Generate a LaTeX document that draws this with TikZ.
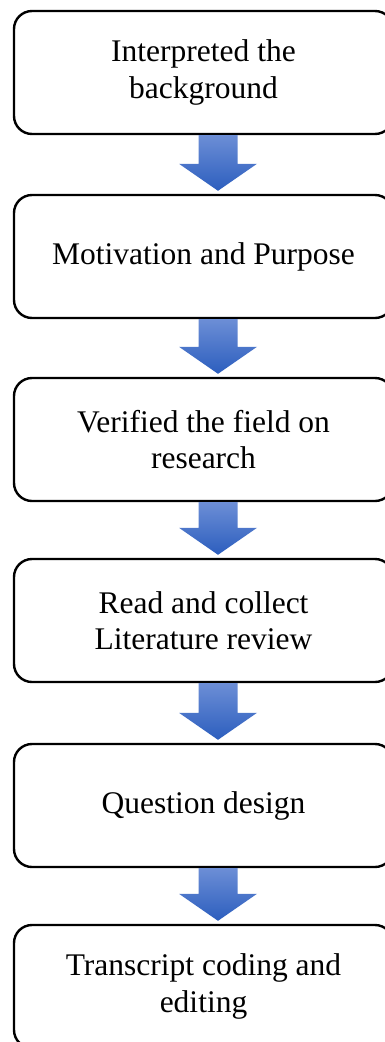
\documentclass[tikz,border=0pt]{standalone}
\usepackage{fontspec}
\setmainfont{Liberation Serif}
\usetikzlibrary{calc}
\definecolor{arrtop}{RGB}{108,142,214}
\definecolor{arrbot}{RGB}{44,94,190}
\tikzset{
 stepbox/.style={draw=black, line width=2.4pt, rounded corners=18pt, minimum width=379pt, minimum height=123pt, align=center, font=\fontsize{31.5}{36.5}\selectfont, inner sep=0pt},
 flowarrow/.style={top color=arrtop, bottom color=arrbot, draw=none}
}
\newcommand{\flowarr}[2]{%
 \path[flowarrow] let \p1=(#1.south), \p2=(#2.north) in
 (\x1-5pt,\y1) -- (\x1+34pt,\y1) -- (\x1+34pt,\y2+30pt) -- (\x1+53.5pt,\y2+30pt) -- (\x1+14.5pt,\y2+3pt) -- (\x1-24.5pt,\y2+30pt) -- (\x1-5pt,\y2+30pt) -- cycle;}
\begin{document}
\begin{tikzpicture}[x=1pt,y=1pt]
\useasboundingbox (0,0) rectangle (384,-1042);
\node[stepbox] (b1) at (203.5,-72.5) {Interpreted the\\background};
\node[stepbox] (b2) at (203.5,-256.5) {Motivation and Purpose};
\node[stepbox] (b3) at (203.5,-439.5) {Verified the field on\\research};
\node[stepbox] (b4) at (203.5,-620.5) {Read and collect\\Literature review};
\node[stepbox] (b5) at (203.5,-805.5) {Question design};
\node[stepbox] (b6) at (203.5,-986.5) {Transcript coding and\\editing};
\flowarr{b1}{b2}
\flowarr{b2}{b3}
\flowarr{b3}{b4}
\flowarr{b4}{b5}
\flowarr{b5}{b6}
\end{tikzpicture}
\end{document}
